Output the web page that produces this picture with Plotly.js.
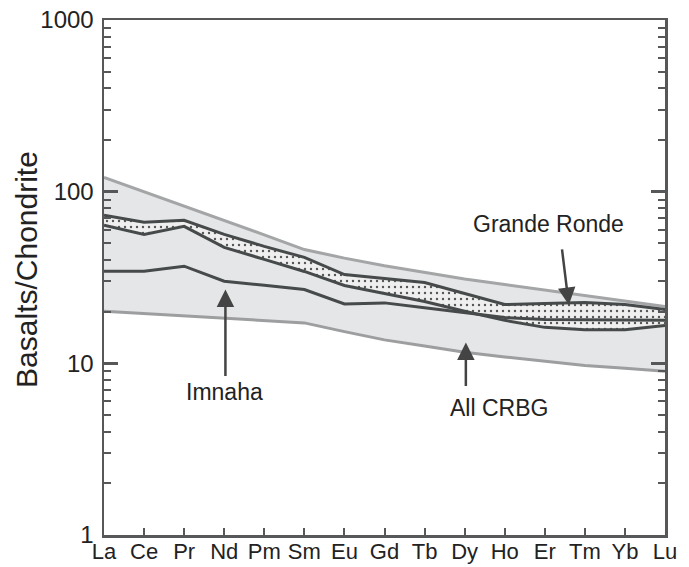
<!DOCTYPE html>
<html>
<head>
<meta charset="utf-8">
<script src="https://cdn.plot.ly/plotly-3.0.1.min.js"></script>
<style>
html,body{margin:0;padding:0;background:#fff;}
#chart{width:689px;height:567px;}
</style>
</head>
<body>
<div id="chart"></div>
<script>
// Rare earth elements (x categories)
var elements = ["La","Ce","Pr","Nd","Pm","Sm","Eu","Gd","Tb","Dy","Ho","Er","Tm","Yb","Lu"];

// All CRBG envelope (sample/chondrite)
var crbgUpper = [121, 100, 82, 68, 56, 46, 41, 37, 34, 31, 28.8, 26.7, 24.8, 23.1, 21.4];
var crbgLower = [20.1, 19.5, 18.9, 18.3, 17.8, 17.2, 15.3, 13.7, 12.6, 11.6, 10.9, 10.3, 9.7, 9.35, 9.0];

// Grande Ronde field (upper and lower bounding patterns)
var grandeRondeUpper = [72.8, 66.3, 68.1, 56.4, 48.0, 41.4, 32.9, 31.2, 29.6, 25.5, 22.0, 22.3, 22.6, 22.0, 20.6];
var grandeRondeLower = [63.7, 56.4, 62.8, 47.4, 40.3, 34.3, 28.4, 25.5, 22.9, 20.1, 17.8, 16.2, 15.7, 15.7, 16.6];

// Imnaha pattern
var imnaha = [34.4, 34.4, 36.8, 30.1, 28.5, 26.9, 22.2, 22.5, 21.1, 19.8, 18.5, 18.0, 17.9, 17.8, 17.8];

// Y tick values / labels
var yTickVals = [1, 10, 100, 1000];
var yTickText = ["1", "10", "100", "1000"];
var yTitle = "Basalts/Chondrite";

var xIdx = elements.map(function(_, i){ return i; });
var FONT = "'Liberation Sans', Arial, Helvetica, sans-serif";
var dark = "#474a4b";
var axisCol = "#555758";

var traces = [
  {x: xIdx, y: crbgLower, type: "scatter", mode: "lines",
   line: {color: "#9c9e9f", width: 3}, hoverinfo: "skip", showlegend: false},
  {x: xIdx, y: crbgUpper, type: "scatter", mode: "lines", fill: "tonexty",
   fillcolor: "#e4e6e7", line: {color: "#a3a5a6", width: 3}, hoverinfo: "skip", showlegend: false},
  {x: xIdx, y: grandeRondeLower, type: "scatter", mode: "lines",
   line: {color: dark, width: 3}, showlegend: false},
  {x: xIdx, y: grandeRondeUpper, type: "scatter", mode: "lines", fill: "tonexty",
   fillcolor: "#eeeeee",
   fillpattern: {shape: ".", size: 6, solidity: 0.12, fgcolor: "#555555", bgcolor: "#efefef", fillmode: "replace"},
   line: {color: dark, width: 3}, showlegend: false},
  {x: xIdx, y: imnaha, type: "scatter", mode: "lines",
   line: {color: dark, width: 3}, showlegend: false}
];

var arrowCommon = {showarrow: true, arrowhead: 2, arrowsize: 1.4, arrowwidth: 2.5,
  arrowcolor: "#444", text: "", xref: "x", yref: "y", axref: "pixel", ayref: "pixel"};

var annotations = [
  Object.assign({}, arrowCommon, {x: 3.03, y: 1.43, ax: 0, ay: 88}),
  {x: 3.0, y: 0.835, xref: "x", yref: "y", text: "Imnaha", showarrow: false,
   font: {family: FONT, size: 23, color: "#222"}},
  Object.assign({}, arrowCommon, {x: 9.03, y: 1.121, ax: 0, ay: 45}),
  {x: 9.85, y: 0.74, xref: "x", yref: "y", text: "All CRBG", showarrow: false,
   font: {family: FONT, size: 23, color: "#222"}},
  Object.assign({}, arrowCommon, {x: 11.6, y: 1.34, ax: -7, ay: -57}),
  {x: 11.1, y: 1.81, xref: "x", yref: "y", text: "Grande Ronde", showarrow: false,
   font: {family: FONT, size: 23, color: "#222"}},
  {x: -0.137, y: 0.515, xref: "paper", yref: "paper", text: yTitle, textangle: -90,
   showarrow: false, xanchor: "center", yanchor: "middle",
   font: {family: FONT, size: 30, color: "#222"}}
];

var layout = {
  width: 689, height: 567,
  margin: {l: 104, r: 24, t: 20, b: 32, pad: 0},
  paper_bgcolor: "#ffffff", plot_bgcolor: "#ffffff",
  font: {family: FONT, color: "#222"},
  showlegend: false,
  xaxis: {
    range: [0, 14], tickmode: "array", tickvals: xIdx, ticktext: elements,
    ticks: "inside", ticklen: 7, tickwidth: 2, tickcolor: axisCol,
    showline: true, linecolor: axisCol, linewidth: 2.5, mirror: true,
    showgrid: false, zeroline: false, ticklabelstandoff: -5,
    tickfont: {family: FONT, size: 22, color: "#222"}
  },
  yaxis: {
    type: "log", range: [0, 3],
    tickmode: "array", tickvals: yTickVals, ticktext: yTickText,
    ticks: "inside", ticklen: 14, tickwidth: 2.5, tickcolor: axisCol,
    minor: {ticks: "inside", ticklen: 7, tickwidth: 2, tickcolor: axisCol, dtick: "D1", showgrid: false},
    showline: true, linecolor: axisCol, linewidth: 2.5, mirror: "ticks",
    showgrid: false, zeroline: false, ticklabelstandoff: 3,
    tickfont: {family: FONT, size: 24, color: "#222"}
  },
  annotations: annotations
};

Plotly.newPlot("chart", traces, layout, {staticPlot: true});
</script>
</body>
</html>
